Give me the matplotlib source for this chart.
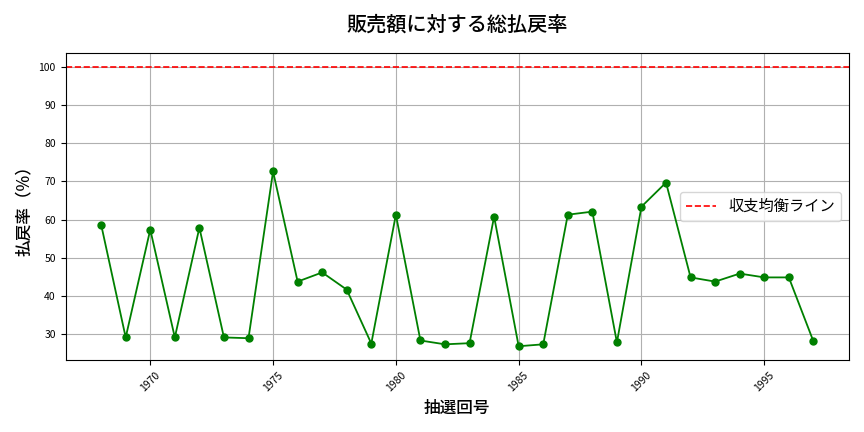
import matplotlib
matplotlib.use("Agg")
import matplotlib.pyplot as plt

plt.rcParams['font.family'] = ['Noto Sans CJK JP', 'DejaVu Sans']

# 抽選回号 (年) と 総払戻率 (%)
years = list(range(1968, 1998))
payout_rate = [58.7, 29.2, 57.4, 29.2, 57.9, 29.2, 29.0, 72.6, 43.8, 46.2,
               41.7, 27.6, 61.3, 28.4, 27.4, 27.7, 60.8, 26.9, 27.4, 61.3,
               62.1, 27.9, 63.4, 69.7, 44.9, 43.8, 45.9, 44.9, 44.9, 28.2]
breakeven = 100

fig, ax = plt.subplots(figsize=(8.64, 4.32), dpi=100)
ax.plot(years, payout_rate, marker='o', color='green', linewidth=1.3, markersize=5)
ax.axhline(breakeven, color='red', linestyle='--', linewidth=1.2, label='収支均衡ライン')

ax.set_title('販売額に対する総払戻率', fontsize=14.5, fontweight='medium', pad=16)
ax.set_xlabel('抽選回号', fontsize=12, fontweight='medium')
ax.set_ylabel('払戻率（%）', fontsize=12, fontweight='medium')
ax.tick_params(axis='both', labelsize=7.5)
plt.setp(ax.get_xticklabels(), rotation=45)
ax.grid(True)
ax.legend(loc='center right', fontsize=11)

plt.tight_layout()
plt.savefig('out.png')
